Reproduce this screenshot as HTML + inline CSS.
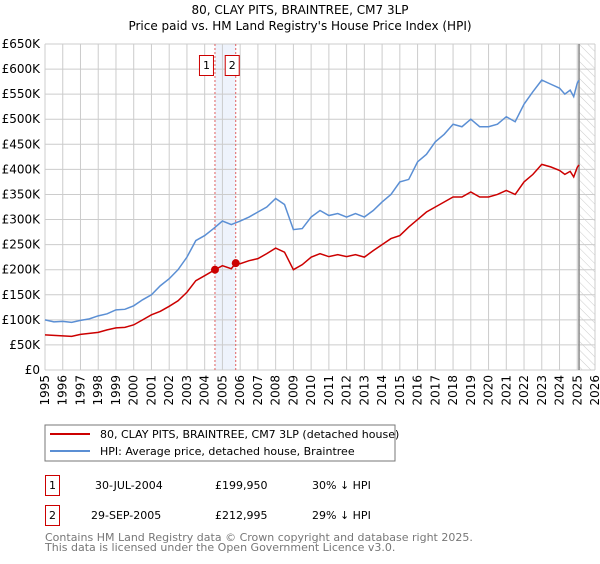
<!DOCTYPE html>
<html><head><meta charset="utf-8"><style>
body{margin:0;background:#fff;font-family:"DejaVu Sans","Liberation Sans",sans-serif;}
svg text{font-family:"DejaVu Sans","Liberation Sans",sans-serif;}
</style></head><body>
<svg id="c" width="600" height="560" xmlns="http://www.w3.org/2000/svg">
<defs><pattern id="hatch" width="6" height="6" patternUnits="userSpaceOnUse" patternTransform="rotate(-45)"><line x1="0" y1="0" x2="0" y2="6" stroke="#ccc" stroke-width="1"/></pattern></defs>
<text x="300" y="14" text-anchor="middle" font-size="12">80, CLAY PITS, BRAINTREE, CM7 3LP</text>
<text x="300" y="30" text-anchor="middle" font-size="12">Price paid vs. HM Land Registry's House Price Index (HPI)</text>
<g id="plot"></g>
<rect x="45" y="425" width="350" height="36" fill="#fff" stroke="#777"/>
<line x1="50" y1="434" x2="90" y2="434" stroke="#cc0000" stroke-width="2"/>
<text x="100" y="438" font-size="11">80, CLAY PITS, BRAINTREE, CM7 3LP (detached house)</text>
<line x1="50" y1="451" x2="90" y2="451" stroke="#5b8fd4" stroke-width="2"/>
<text x="100" y="455" font-size="11">HPI: Average price, detached house, Braintree</text>
<g font-size="11">
<rect x="45.5" y="475.5" width="14" height="20" fill="none" stroke="#cc0000"/><text x="52.5" y="489" text-anchor="middle">1</text>
<text x="95" y="489">30-JUL-2004</text><text x="215" y="489">£199,950</text><text x="312" y="489">30% ↓ HPI</text>
<rect x="45.5" y="505.5" width="14" height="20" fill="none" stroke="#cc0000"/><text x="52.5" y="519" text-anchor="middle">2</text>
<text x="91" y="519">29-SEP-2005</text><text x="215" y="519">£212,995</text><text x="312" y="519">29% ↓ HPI</text>
</g>
<text x="45" y="541" font-size="11" fill="#777">Contains HM Land Registry data © Crown copyright and database right 2025.</text>
<text x="45" y="551" font-size="11" fill="#777">This data is licensed under the Open Government Licence v3.0.</text>
</svg>
<script>
const hpiYears=[1995,1995.5,1996,1996.5,1997,1997.5,1998,1998.5,1999,1999.5,2000,2000.5,2001,2001.5,2002,2002.5,2003,2003.5,2004,2004.5,2005,2005.5,2006,2006.5,2007,2007.5,2008,2008.5,2009,2009.5,2010,2010.5,2011,2011.5,2012,2012.5,2013,2013.5,2014,2014.5,2015,2015.5,2016,2016.5,2017,2017.5,2018,2018.5,2019,2019.5,2020,2020.5,2021,2021.5,2022,2022.5,2023,2023.5,2024,2024.3,2024.6,2024.8,2025,2025.1];
const hpiValues=[100,96,97,95,99,102,108,112,120,121,128,140,150,168,182,200,225,258,268,282,297,290,297,305,315,325,342,330,280,282,305,318,308,312,305,312,305,318,335,350,375,380,415,430,455,470,490,485,500,485,485,490,505,495,530,555,578,570,562,550,558,545,572,578];
const priceYears=[1995,1996,1996.5,1997,1998,1998.5,1999,1999.5,2000,2000.5,2001,2001.5,2002,2002.5,2003,2003.5,2004,2004.58,2005,2005.5,2005.75,2006,2006.5,2007,2007.5,2008,2008.5,2009,2009.5,2010,2010.5,2011,2011.5,2012,2012.5,2013,2013.5,2014,2014.5,2015,2015.5,2016,2016.5,2017,2017.5,2018,2018.5,2019,2019.5,2020,2020.5,2021,2021.5,2022,2022.5,2023,2023.5,2024,2024.3,2024.6,2024.8,2025,2025.1];
const priceValues=[70,68,67,71,75,80,84,85,90,100,110,117,127,138,155,178,188,200,208,202,213,212,218,222,232,243,235,200,210,225,232,226,230,226,230,225,238,250,262,268,285,300,315,325,335,345,345,355,345,345,350,358,350,375,390,410,405,398,390,396,385,404,409];
const saleYears=[2004.58,2005.75];
const saleValues=[199.95,212.995];
const saleLabels=['1','2'];
const yTicks=[0,50,100,150,200,250,300,350,400,450,500,550,600,650];
const yTickLabels=['£0','£50K','£100K','£150K','£200K','£250K','£300K','£350K','£400K','£450K','£500K','£550K','£600K','£650K'];
const xTicks=[1995,1996,1997,1998,1999,2000,2001,2002,2003,2004,2005,2006,2007,2008,2009,2010,2011,2012,2013,2014,2015,2016,2017,2018,2019,2020,2021,2022,2023,2024,2025,2026];
const dataEnd=2025.1;

const X0=45,X1=595,Y0=370,Y1=44;
const x=v=>X0+(v-1995)/(2026-1995)*(X1-X0);
const y=v=>Y0-v/650*(Y0-Y1);
const NS='http://www.w3.org/2000/svg';
const g=document.getElementById('plot');
function mk(t,a){const e=document.createElementNS(NS,t);for(const k in a)e.setAttribute(k,a[k]);g.appendChild(e);return e;}
let e;
e=mk('rect',{x:x(saleYears[0]),y:Y1,width:x(saleYears[1])-x(saleYears[0]),height:Y0-Y1,fill:'#eef3fc'});


e=mk('rect',{x:x(dataEnd),y:Y1,width:X1-x(dataEnd),height:Y0-Y1,fill:'url(#hatch)'});


yTicks.forEach((t,i)=>{
 e=mk('line',{x1:X0,x2:X1,y1:y(t),y2:y(t),stroke:'#ccc'});
 
 
 e=mk('text',{x:40,y:y(t)+4,'text-anchor':'end','font-size':12});
 e.textContent=yTickLabels[i];
 
 
});
xTicks.forEach(t=>{
 e=mk('line',{x1:x(t),x2:x(t),y1:Y1,y2:Y0,stroke:'#ccc'});
 
 
 e=mk('text',{x:0,y:0,'text-anchor':'end','font-size':12,transform:`translate(${x(t)+4},375) rotate(-90)`});
 e.textContent=t;
 
 
});
e=mk('line',{x1:x(dataEnd),x2:x(dataEnd),y1:Y1,y2:Y0,stroke:'#888','stroke-width':1.5});


saleYears.forEach((s,i)=>{
 e=mk('line',{x1:x(s),x2:x(s),y1:Y1,y2:Y0,stroke:'#e06060','stroke-dasharray':'2,2'});
 
 
 e=mk('rect',{x:x(s)-15.5,y:55.5,width:14,height:20,fill:'#fff',stroke:'#cc0000'});
 if(i==1)e.setAttribute('x',x(s)-10.5);
 
 
 e=mk('text',{x:(i==0?x(s)-8.5:x(s)-3.5),y:69,'text-anchor':'middle','font-size':11});
 e.textContent=saleLabels[i];
 
 
});
e=mk('polyline',{points:hpiYears.map((v,i)=>x(v)+','+y(hpiValues[i])).join(' '),fill:'none',stroke:'#5b8fd4','stroke-width':1.5});


e=mk('polyline',{points:priceYears.map((v,i)=>x(v)+','+y(priceValues[i])).join(' '),fill:'none',stroke:'#cc0000','stroke-width':1.5});


saleYears.forEach((s,i)=>{
 e=mk('circle',{cx:x(s),cy:y(saleValues[i]),r:4,fill:'#cc0000'});
 
 
});
</script>
</body></html>
